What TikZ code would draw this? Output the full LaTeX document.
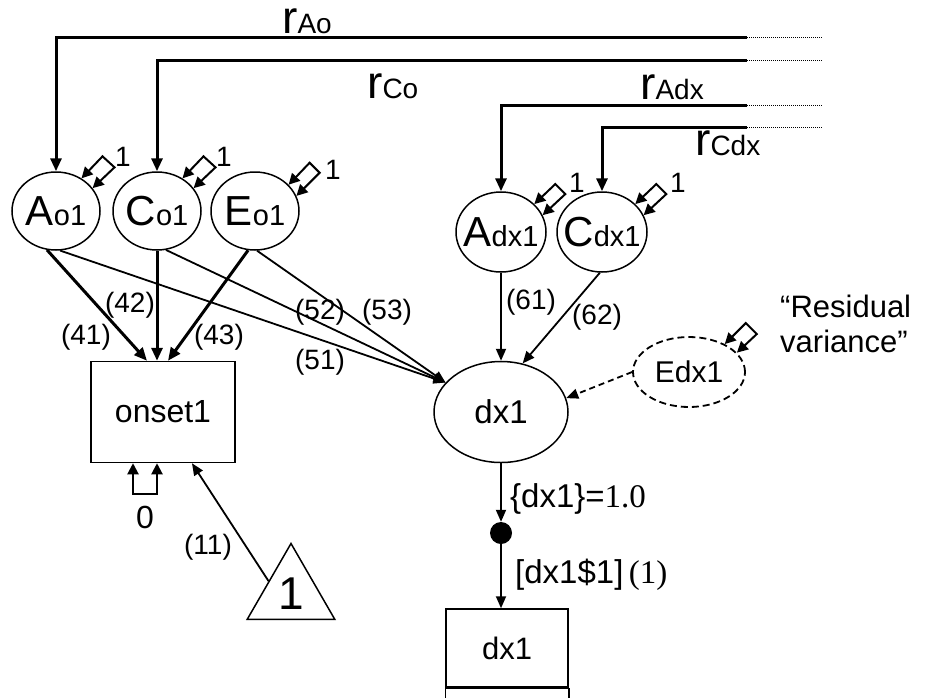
\documentclass[tikz,border=0pt]{standalone}
\usepackage{fontspec}
\setmainfont{Liberation Sans}
\newfontfamily\timesfont{Liberation Serif}
\usetikzlibrary{positioning,shapes.geometric,arrows.meta}
\newcommand{\fsz}[1]{\fontsize{#1}{#1}\selectfont}
\newcommand{\latname}[2]{\makebox[0pt]{{\fsz{42}#1}{\fsz{29}#2}}}
\newcommand{\corrname}[1]{{\fsz{46}r}{\fsz{28}#1}}

\begin{document}
\begin{tikzpicture}[x=1pt, y=-1pt,
  latent/.style={draw, ellipse, line width=1.5pt, inner sep=0pt,
    minimum width=88pt, minimum height=78pt},
  manifest/.style={draw, rectangle, line width=1.5pt, inner sep=0pt},
  path label/.style={inner sep=0pt, font={\fsz{28}}},
  corr label/.style={anchor=base west, inner sep=0pt, text height=24pt},
  thick path/.style={line width=3pt, -{Triangle[length=13pt, width=11pt]}},
  thin path/.style={line width=1.8pt, -{Triangle[length=12pt, width=10pt]}},
  var path/.style={line width=2pt,
    {Triangle[length=11pt, width=11pt]}-{Triangle[length=11pt, width=11pt]}}]
  \useasboundingbox (0,0) rectangle (925,697);

  % latent variables
  \node[latent] (ao1) at (56,211) {\latname{A}{o1}};
  \node[latent] (co1) at (157,211) {\latname{C}{o1}};
  \node[latent] (eo1) at (255,211) {\latname{E}{o1}};
  \node[latent, minimum width=90pt, minimum height=80pt] (adx1) at (501,232)
    {\latname{A}{dx1}};
  \node[latent, minimum width=90pt, minimum height=80pt] (cdx1) at (602,232)
    {\latname{C}{dx1}};
  \node[latent, minimum width=134pt, minimum height=101pt] (dxLat) at (501,412)
    {\fsz{33}dx1};
  \node[latent, line width=1.8pt, dash pattern=on 7pt off 4pt, minimum width=112pt,
    minimum height=70pt] (edx1) at (689,372) {\fsz{30}Edx1};

  % observed variables
  \node[manifest, minimum width=144pt, minimum height=101pt] (onsetBox)
    at (163,412) {\fsz{32}onset1};
  \node[manifest, minimum width=122pt, minimum height=78pt] (dxBox)
    at (507,648) {\fsz{31}dx1};
  \draw[line width=3pt] (dxBox.south west) -- (dxBox.south east);
  \draw[line width=1.5pt] (dxBox.south west) -- ++(0,12)
    (dxBox.south east) -- ++(0,12);
  \node[draw, regular polygon, regular polygon sides=3, minimum size=101pt,
    inner sep=0pt, line width=1.5pt] (oneTri) at (291,594) {\fsz{46}1};
  \node[circle, fill, inner sep=0pt, minimum size=22pt] (dxDot) at (501,533) {};

  % correlations across twins
  \coordinate (rAoEnd) at (747,37);
  \coordinate (rCoEnd) at (747,60);
  \coordinate (rAdxEnd) at (747,105);
  \coordinate (rCdxEnd) at (747,127);
  \draw[thick path] (rAoEnd) -| (ao1.north);
  \draw[thick path] (rCoEnd) -| (co1.north);
  \draw[thick path] (rAdxEnd) -| (adx1.north);
  \draw[thick path] (rCdxEnd) -| (cdx1.north);
  \draw[line width=1pt, densely dotted] (rAoEnd) -- ++(76,0)
    (rCoEnd) -- ++(76,0) (rAdxEnd) -- ++(76,0) (rCdxEnd) -- ++(76,0);
  \node[corr label] (rAoLbl) at (282,33) {\corrname{Ao}};
  \node[corr label] (rCoLbl) at (367,98) {\corrname{Co}};
  \node[corr label] (rAdxLbl) at (640,99) {\corrname{Adx}};
  \node[corr label] (rCdxLbl) at (695,155) {\corrname{Cdx}};

  % variances
  \draw[var path] (ao1.52) -- ++(21,-22) -- ++(12,11) -- (ao1.32);
  \draw[var path] (co1.52) -- ++(21,-22) -- ++(12,11) -- (co1.32);
  \draw[var path] (eo1.38) -- ++(21,-22) -- ++(10,10) -- (eo1.20);
  \draw[var path] (adx1.40) -- ++(21,-20) -- ++(10,10) -- (adx1.22);
  \draw[var path] (cdx1.40) -- ++(21,-20) -- ++(10,10) -- (cdx1.22);
  \draw[var path] (edx1.38) -- ++(21,-21) -- ++(11,11) -- (edx1.22);
  \node[path label] (vAo) at (123,157) {1};
  \node[path label] (vCo) at (224,157) {1};
  \node[path label] (vEo) at (333,170) {1};
  \node[path label] (vAdx) at (577,183) {1};
  \node[path label] (vCdx) at (678,183) {1};
  \node[anchor=west, align=left, inner sep=0pt, font={\fontsize{31}{35}\selectfont}]
    (residLbl) at (780,324) {“Residual\\variance”};

  % paths
  \draw[thick path] (ao1.-103) -- ([xshift=-16pt]onsetBox.north);
  \draw[thick path] (co1.south) -- (co1.south |- onsetBox.north);
  \draw[thick path] (eo1.-100) -- ([xshift=5pt]onsetBox.north);
  \draw[thin path] (ao1.-84) -- (dxLat.152);
  \draw[thin path] (co1.-77) -- (dxLat.152);
  \draw[thin path] (eo1.-87) -- (dxLat.152);
  \draw[thin path] (adx1.south) -- (dxLat.north);
  \draw[thin path] (cdx1.-93) -- (dxLat.66);
  \draw[thin path, dash pattern=on 6pt off 4pt] (edx1.west) -- (dxLat.12);
  \draw[thin path] (dxLat.south) -- (dxDot.north);
  \draw[thin path] (dxDot.south) -- (dxDot.south |- dxBox.north);
  \draw[thin path] (oneTri.side 1) -- ([xshift=29pt]onsetBox.south);
  \draw[var path] ([xshift=-30pt]onsetBox.south) -- ++(0,31)
    -| ([xshift=-6pt]onsetBox.south);

  % path labels
  \node[path label] (p41) at (86,337) {(41)};
  \node[path label] (p42) at (130,305) {(42)};
  \node[path label] (p43) at (219,337) {(43)};
  \node[path label] (p51) at (320,362) {(51)};
  \node[path label] (p52) at (320,312) {(52)};
  \node[path label] (p53) at (387,312) {(53)};
  \node[path label] (p61) at (531,302) {(61)};
  \node[path label] (p62) at (597,317) {(62)};
  \node[path label] (p11) at (208,547) {(11)};
  \node[path label, font={\fsz{32}}] (zeroLbl) at (145,517) {0};
  \node[anchor=base west, inner sep=0pt] (fixLbl) at (510,507)
    {\fsz{33}\{dx1\}={\timesfont 1.0}};
  \node[anchor=base west, inner sep=0pt] (threshLbl) at (515,583)
    {\fsz{33}[dx1\$1]\,{\timesfont (1)}};
\end{tikzpicture}
\end{document}
